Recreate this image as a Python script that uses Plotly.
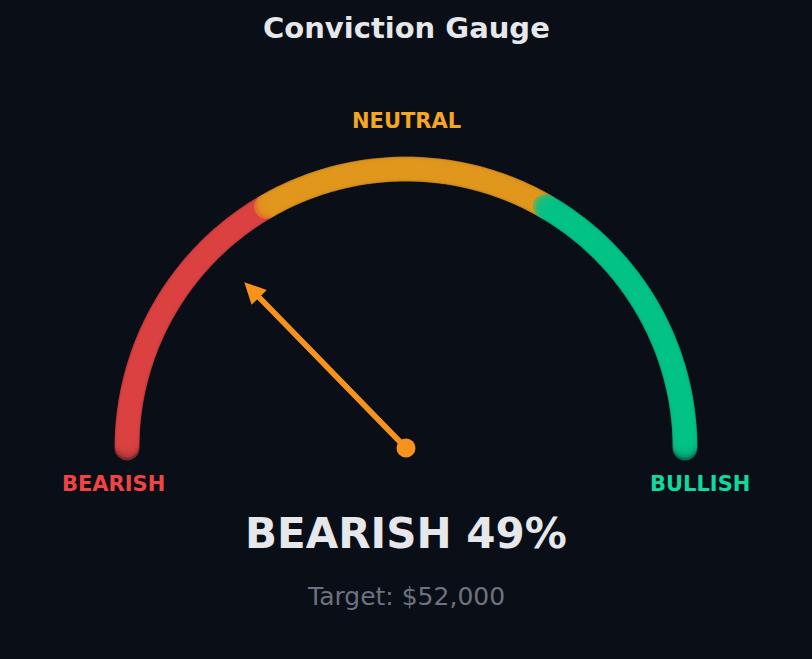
import numpy as np
import plotly.graph_objects as go

# ---- data ----
zone_names = ["BEARISH", "NEUTRAL", "BULLISH"]
zone_bounds = [0, 33.33, 66.67, 100]
zone_label_colors = ["#ef4444", "#f5a623", "#10d9a0"]
zone_arc_colors = ["#dc4242", "#e2981e", "#04c287"]
needle_value = 25.4          # gauge score (0 = fully bearish, 100 = fully bullish)
signal_label = "BEARISH"
signal_pct = 49
target_price = 52000
title_text = "Conviction Gauge"

BG = "#0a0e16"
NEEDLE = "#f7931a"
R = 1.0
pts_per_zone = 100

def val_to_angle(v):
    return np.deg2rad(180 - v * 1.8)

fig = go.Figure()
for i, name in enumerate(zone_names):
    vals = np.linspace(zone_bounds[i], zone_bounds[i + 1], pts_per_zone)
    th = val_to_angle(vals)
    fig.add_trace(go.Scatter(
        x=R * np.cos(th), y=R * np.sin(th), mode="markers",
        marker=dict(size=25, color=zone_arc_colors[i], opacity=0.55, line=dict(width=0)),
        hoverinfo="skip", showlegend=False))

# needle
th = val_to_angle(needle_value)
L = 0.83 * R
tip_x, tip_y = L * np.cos(th), L * np.sin(th)
shaft = 0.79 * R
fig.add_trace(go.Scatter(x=[0, shaft * np.cos(th)], y=[0, shaft * np.sin(th)], mode="lines",
                         line=dict(color=NEEDLE, width=5.5), hoverinfo="skip", showlegend=False))
fig.add_annotation(x=tip_x, y=tip_y, ax=0, ay=0, xref="x", yref="y", axref="x", ayref="y",
                   showarrow=True, arrowhead=2, arrowsize=0.85, arrowwidth=5,
                   arrowcolor=NEEDLE, text="")
fig.add_trace(go.Scatter(x=[0], y=[0], mode="markers",
                         marker=dict(size=19, color=NEEDLE, line=dict(width=0)),
                         hoverinfo="skip", showlegend=False))

# zone labels
label_pos = [(-1.05, -0.13), (0.0, 1.172), (1.054, -0.13)]
for (lx, ly), name, col in zip(label_pos, zone_names, zone_label_colors):
    fig.add_annotation(x=lx, y=ly, xref="x", yref="y", text=f"<b>{name}</b>",
                       xanchor="center", yanchor="middle", showarrow=False,
                       font=dict(family="DejaVu Sans", size=21, color=col))

H = 659
fig.add_annotation(x=0.5, y=1 - 28 / H, xref="paper", yref="paper", text=f"<b>{title_text}</b>",
                   xanchor="center", yanchor="middle", showarrow=False,
                   font=dict(family="DejaVu Sans", size=29, color="#e5e7eb"))
fig.add_annotation(x=0.5, y=1 - 533 / H, xref="paper", yref="paper",
                   text=f"<b>{signal_label} {signal_pct}%</b>", showarrow=False,
                   xanchor="center", yanchor="middle",
                   font=dict(family="DejaVu Sans", size=42, color="#e5e7eb"))
fig.add_annotation(x=0.5, y=1 - 596 / H, xref="paper", yref="paper",
                   text=f"Target: ${target_price:,}", showarrow=False,
                   xanchor="center", yanchor="middle",
                   font=dict(family="DejaVu Sans", size=25, color="#6b7280"))

s = 279.0
fig.update_layout(
    width=812, height=659, paper_bgcolor=BG, plot_bgcolor=BG,
    margin=dict(l=0, r=0, t=0, b=0),
    xaxis=dict(range=[-406 / s, 406 / s], visible=False, fixedrange=True),
    yaxis=dict(range=[(448 - 659) / s, 448 / s], visible=False, fixedrange=True),
    showlegend=False,
)
fig.write_html("out.html", config={"displayModeBar": False},
               post_script="document.body.style.margin='0';document.body.style.background='" + BG + "';")
